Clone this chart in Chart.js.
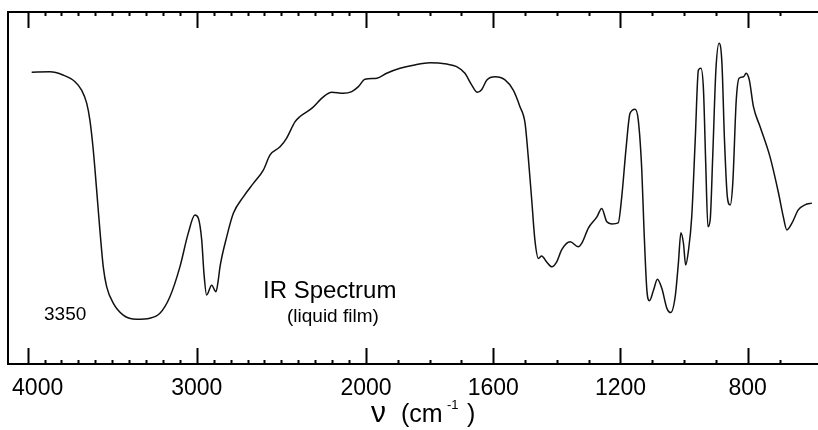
<!DOCTYPE html>
<html>
<head>
<meta charset="utf-8">
<script src="https://cdn.jsdelivr.net/npm/chart.js@4.4.0/dist/chart.umd.min.js"></script>
<style>
  html, body { margin: 0; padding: 0; background: #fff; }
</style>
</head>
<body>
<canvas id="irChart" width="818" height="430"></canvas>
<script>
// Trace: wavenumber (cm-1) and % transmittance
const wavenumbers = [
    3976, 3868, 3791, 3720, 3681, 3651, 3632, 3612, 3592, 3573, 3553, 3533, 3494, 3435, 3356, 3277,
    3218, 3159, 3100, 3051, 3011, 2991, 2971, 2958, 2942, 2912, 2887, 2873, 2863, 2823, 2784, 2725,
    2666, 2607, 2567, 2508, 2469, 2420, 2390, 2321, 2252, 2203, 2134, 2084, 2045, 2006, 1966, 1935,
    1893, 1851, 1799, 1746, 1715, 1689, 1668, 1650, 1636, 1620, 1594, 1563, 1537, 1516, 1500, 1490,
    1479, 1469, 1458, 1448, 1432, 1416, 1400, 1385, 1358, 1333, 1321, 1301, 1274, 1259, 1243, 1227,
    1207, 1196, 1182, 1170, 1154, 1144, 1133, 1126, 1117, 1109, 1096, 1084, 1070, 1054, 1042, 1028,
    1018, 1010, 1002, 995, 986, 976, 965, 955, 947, 939, 932, 925, 918, 910, 900, 890,
    881, 873, 864, 855, 847, 836, 827, 813, 805, 795, 782, 761, 730, 703, 688, 677,
    661, 641, 620, 598
];
const transmittance = [
    82.9, 83.0, 82.1, 80.2, 77.8, 74.1, 69.3, 60.8, 49.4, 38.1, 27.6, 22.0, 17.3, 13.9, 12.7, 13.0,
    14.4, 19.1, 27.6, 37.1, 42.3, 41.4, 35.2, 25.9, 19.6, 22.4, 20.5, 23.9, 27.6, 36.2, 42.8, 47.5,
    51.3, 55.1, 59.4, 61.7, 64.2, 68.8, 70.3, 72.6, 75.9, 77.2, 76.9, 77.4, 78.8, 80.9, 81.2, 82.6,
    84.0, 84.9, 85.6, 85.2, 84.5, 82.6, 79.3, 77.2, 78.0, 80.7, 81.6, 80.7, 77.8, 73.1, 68.4, 58.9,
    46.6, 35.2, 30.0, 30.7, 29.0, 27.6, 29.1, 32.4, 34.7, 33.3, 34.4, 38.6, 41.8, 44.2, 40.4, 39.8,
    40.1, 47.5, 61.7, 71.2, 72.4, 69.3, 55.1, 38.1, 21.0, 18.0, 21.0, 24.1, 21.5, 15.8, 14.6, 19.1,
    28.6, 37.3, 34.3, 28.1, 32.4, 41.8, 63.6, 83.5, 84.0, 77.8, 57.0, 39.0, 40.9, 58.9, 83.5, 91.1,
    85.4, 63.6, 47.5, 45.2, 51.3, 75.0, 81.2, 81.6, 82.6, 80.7, 73.1, 67.4, 58.9, 48.5, 41.8, 38.1,
    40.0, 43.8, 45.2, 45.7
];

// Axis ticks (cm-1)
const majorTicks = [4000, 3000, 2000, 1600, 1200, 800];
const tickLabels = ['4000', '3000', '2000', '1600', '1200', '800'];
const minorTicks = [
    3900, 3800, 3700, 3600, 3500, 3400, 3300, 3200, 3100,
    2900, 2800, 2700, 2600, 2500, 2400, 2300, 2200, 2100,
    1900, 1800, 1700, 1500, 1400, 1300, 1100, 1000, 900, 700
];

// Chart paper scale changes at 2000 cm-1: the range below it is spread wider
const BREAK = 2000;
const STRETCH = 1.88;
const WN_LEFT = 4116;
const WN_RIGHT = 579;

function axisPos(nu) {
    return nu >= BREAK ? 4000 - nu : (4000 - BREAK) + (BREAK - nu) * STRETCH;
}

const FONT = "'Liberation Sans', Arial, Helvetica, sans-serif";

// Frame, inward ticks, labels and notes
const framePlugin = {
    id: 'frame',
    afterDraw(chart) {
        const ctx = chart.ctx;
        const area = chart.chartArea;
        const xs = chart.scales.x;
        const px = nu => xs.getPixelForValue(axisPos(nu));

        ctx.save();
        ctx.strokeStyle = '#000';
        ctx.lineWidth = 2;
        ctx.beginPath();
        ctx.moveTo(area.right + 2, area.top);
        ctx.lineTo(area.left, area.top);
        ctx.lineTo(area.left, area.bottom);
        ctx.lineTo(area.right + 2, area.bottom);
        ctx.stroke();

        const drawTick = (nu, len) => {
            const x = Math.round(px(nu)) + 0.5;
            ctx.moveTo(x, area.top);
            ctx.lineTo(x, area.top + len);
            ctx.moveTo(x, area.bottom);
            ctx.lineTo(x, area.bottom - len);
        };
        ctx.beginPath();
        majorTicks.forEach(nu => drawTick(nu, 16));
        minorTicks.forEach(nu => drawTick(nu, 4));
        ctx.stroke();

        ctx.fillStyle = '#000';
        ctx.textAlign = 'center';
        ctx.textBaseline = 'alphabetic';
        ctx.font = '23px ' + FONT;
        majorTicks.forEach((nu, i) => {
            // first label is nudged clear of the frame corner
            const x = i === 0 ? px(nu) + 10 : px(nu);
            ctx.fillText(tickLabels[i], x, 395);
        });

        // axis title: ν (cm⁻¹)
        ctx.textAlign = 'left';
        ctx.font = '30px ' + FONT;
        ctx.fillText('ν', 371, 422);
        ctx.font = '25px ' + FONT;
        ctx.fillText('(cm', 401, 422);
        ctx.font = '13px ' + FONT;
        ctx.fillText('-1', 447, 409);
        ctx.font = '25px ' + FONT;
        ctx.fillText(')', 467, 422);

        // notes inside the plot
        ctx.font = '19px ' + FONT;
        ctx.fillText('3350', 44, 320);
        ctx.font = '24px ' + FONT;
        ctx.fillText('IR Spectrum', 263, 298);
        ctx.font = '19px ' + FONT;
        ctx.fillText('(liquid film)', 287, 322);
        ctx.restore();
    }
};

const ctx = document.getElementById('irChart').getContext('2d');
new Chart(ctx, {
    type: 'line',
    data: {
        datasets: [{
            data: wavenumbers.map((nu, i) => ({ x: axisPos(nu), y: transmittance[i] })),
            borderColor: '#111',
            borderWidth: 1.5,
            pointRadius: 0,
            fill: false,
            cubicInterpolationMode: 'monotone'
        }]
    },
    options: {
        responsive: false,
        animation: false,
        devicePixelRatio: 1,
        layout: { padding: { left: 8, top: 12, right: 0, bottom: 66 } },
        plugins: {
            legend: { display: false },
            tooltip: { enabled: false }
        },
        scales: {
            x: { type: 'linear', display: false, min: axisPos(WN_LEFT), max: axisPos(WN_RIGHT) },
            y: { display: false, min: 0, max: 100 }
        }
    },
    plugins: [framePlugin]
});
</script>
</body>
</html>
